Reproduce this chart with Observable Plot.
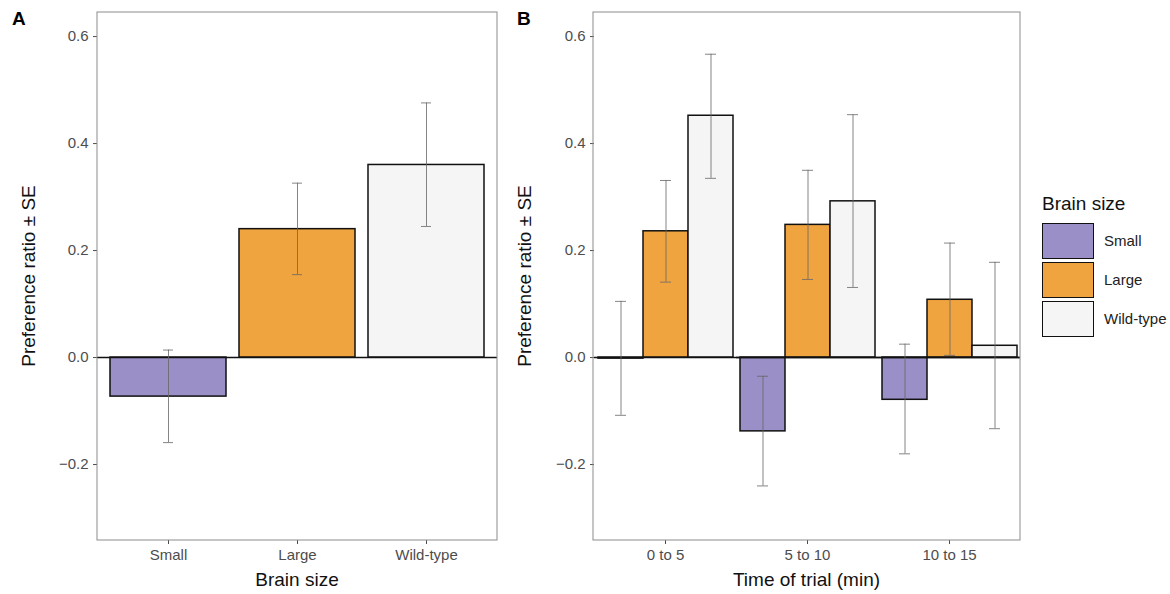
<!DOCTYPE html>
<html><head><meta charset="utf-8">
<script src="https://cdn.jsdelivr.net/npm/d3@7"></script>
<script src="https://cdn.jsdelivr.net/npm/@observablehq/plot@0.6"></script>
<style>
body{margin:0;background:#fff;font-family:"Liberation Sans",Arial,sans-serif;}
#wrap{position:relative;width:1170px;height:594px;}
#a{position:absolute;left:0;top:0}
#b{position:absolute;left:505px;top:0}
.lab{position:absolute;font-weight:bold;font-size:19px;top:8px}
#legend{position:absolute;left:1042px;top:193px;font-size:19px;color:#111}
.row{display:flex;align-items:center;height:39px;font-size:15px;color:#222}
.sw{width:52px;height:36px;border:1.5px solid #111;box-sizing:border-box;margin-right:10px}
</style></head><body>
<div id="wrap"><div id="a"></div><div id="b"></div>
<div class="lab" style="left:12px">A</div><div class="lab" style="left:517px">B</div>
<div id="legend"><div style="margin-bottom:6px">Brain size</div></div></div>
<script>
const sizes = ["Small", "Large", "Wild-type"];
const colors = ["#9a8fc6", "#f0a43f", "#f5f5f5"];
// panel A
const meanA = [-0.073, 0.24, 0.36];
const loA = [-0.159, 0.155, 0.245];
const hiA = [0.014, 0.326, 0.476];
// panel B
const times = ["0 to 5", "5 to 10", "10 to 15"];
const meanB = [[-0.002, 0.236, 0.452], [-0.138, 0.248, 0.292], [-0.079, 0.108, 0.022]];
const loB = [[-0.108, 0.141, 0.335], [-0.240, 0.146, 0.131], [-0.180, 0.004, -0.133]];
const hiB = [[0.105, 0.331, 0.567], [-0.035, 0.350, 0.454], [0.025, 0.214, 0.178]];

const dataA = sizes.map((s, i) => ({size: s, mean: meanA[i], lo: loA[i], hi: hiA[i]}));
const dataB = times.flatMap((t, j) => sizes.map((s, i) => ({time: t, size: s, mean: meanB[j][i], lo: loB[j][i], hi: hiB[j][i]})));

const common = {
  height: 594, marginTop: 12, marginBottom: 54,
  style: {fontFamily: "Liberation Sans, Arial, sans-serif", fontSize: "15px", color: "#4d4d4d"},
  y: {domain: [-0.342, 0.645], ticks: [-0.2, 0, 0.2, 0.4, 0.6], tickFormat: d => d === 0 ? "0.0" : d3.format(".1f")(d).replace("-", "−"), label: null, tickSize: 4},
  color: {domain: sizes, range: colors}
};

function frame(chart, ml, mr, w) {
  d3.select(chart).append("rect").attr("x", ml).attr("y", 12).attr("width", w - ml - mr).attr("height", 594 - 12 - 54)
    .attr("fill", "none").attr("stroke", "#8c8c8c");
  d3.select(chart).append("text").attr("transform", `translate(${ml - 62},${(12 + 540) / 2}) rotate(-90)`)
    .attr("text-anchor", "middle").attr("font-size", 19).attr("fill", "#111").text("Preference ratio ± SE");
  d3.select(chart).append("text").attr("x", (ml + w - mr) / 2).attr("y", 586)
    .attr("text-anchor", "middle").attr("font-size", 19).attr("fill", "#111");
  return chart;
}

const wA = 505, wB = 525;
const chartA = Plot.plot({
  ...common, width: wA, marginLeft: 97, marginRight: 8,
  x: {domain: sizes, padding: 0.1, label: null, tickSize: 4},
  marks: [
    Plot.barY(dataA, {x: "size", y: "mean", fill: "size", stroke: "#111", strokeWidth: 1.5}),
    Plot.ruleY([0], {stroke: "#111", strokeWidth: 1.5}),
    Plot.ruleX(dataA, {x: "size", y1: "lo", y2: "hi", stroke: "#666", strokeWidth: 0.8}),
    Plot.tickY(dataA, {x: "size", y: "lo", stroke: "#666", strokeWidth: 0.8, insetLeft: 53, insetRight: 53}),
    Plot.tickY(dataA, {x: "size", y: "hi", stroke: "#666", strokeWidth: 0.8, insetLeft: 53, insetRight: 53})
  ]
});
frame(chartA, 97, 8, wA);
d3.select(chartA).select("text:last-of-type");
d3.select(chartA).append("text").attr("x", (97 + wA - 8) / 2).attr("y", 586).attr("text-anchor", "middle").attr("font-size", 19).attr("fill", "#111").text("Brain size");
document.getElementById("a").append(chartA);

const chartB = Plot.plot({
  ...common, width: wB, marginLeft: 88, marginRight: 10,
  fx: {domain: times, padding: 0, label: null, tickSize: 4, axis: "bottom"},
  x: {domain: sizes, paddingInner: 0, paddingOuter: 0.05, axis: null},
  facet: {data: dataB, x: "time", label: null},
  marks: [
    Plot.barY(dataB, {x: "size", y: "mean", fill: "size", stroke: "#111", strokeWidth: 1.5}),
    Plot.ruleY([0], {stroke: "#111", strokeWidth: 1.5, facet: "exclude"}),
    Plot.ruleY([0], {stroke: "#111", strokeWidth: 1.5}),
    Plot.ruleX(dataB, {x: "size", y1: "lo", y2: "hi", stroke: "#666", strokeWidth: 0.8}),
    Plot.tickY(dataB, {x: "size", y: "lo", stroke: "#666", strokeWidth: 0.8, insetLeft: 17, insetRight: 17}),
    Plot.tickY(dataB, {x: "size", y: "hi", stroke: "#666", strokeWidth: 0.8, insetLeft: 17, insetRight: 17})
  ]
});
frame(chartB, 88, 10, wB);
d3.select(chartB).append("text").attr("x", (88 + wB - 10) / 2).attr("y", 586).attr("text-anchor", "middle").attr("font-size", 19).attr("fill", "#111").text("Time of trial (min)");
document.getElementById("b").append(chartB);

const lg = d3.select("#legend");
sizes.forEach((s, i) => {
  const r = lg.append("div").attr("class", "row");
  r.append("div").attr("class", "sw").style("background", colors[i]);
  r.append("span").text(s);
});
</script></body></html>
